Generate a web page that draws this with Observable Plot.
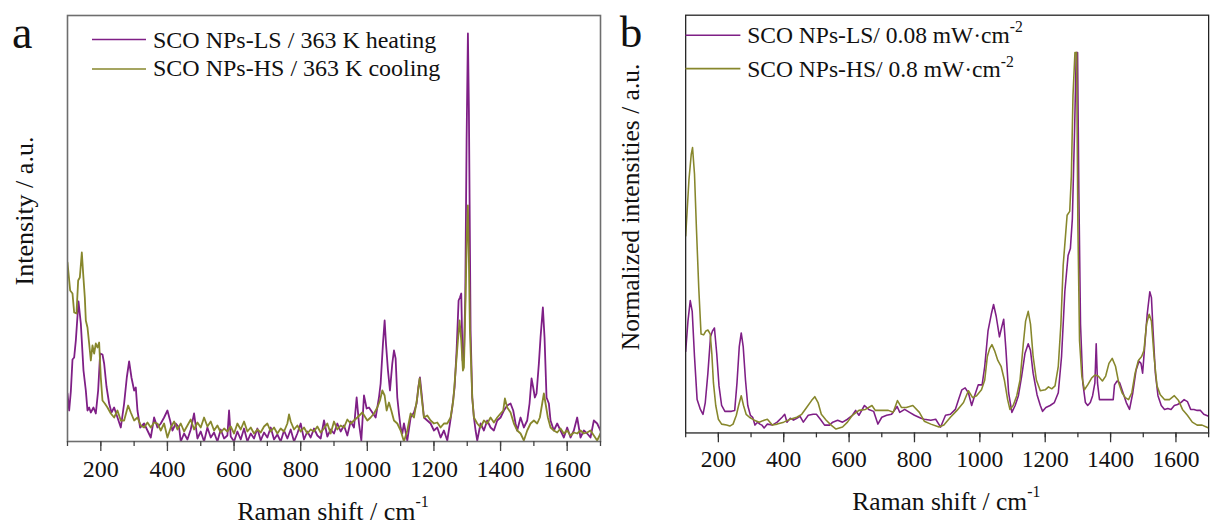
<!DOCTYPE html>
<html><head><meta charset="utf-8">
<script src="https://cdn.jsdelivr.net/npm/d3@7"></script>
<script src="https://cdn.jsdelivr.net/npm/@observablehq/plot@0.6"></script>
<style>
html,body{margin:0;padding:0;background:#fff;overflow:hidden;width:1216px;height:525px;}
#wrap{position:relative;width:1216px;height:525px;overflow:hidden;background:#fff;}
#pa{position:absolute;left:0;top:0;}
#pb{position:absolute;left:608px;top:0;}
svg, svg text{font-family:"Liberation Serif","Times New Roman",serif !important;}
</style></head><body><div id="wrap"><div id="pa"></div><div id="pb"></div></div>
<script>
// Raman shift (cm-1) / intensity (a.u.) pairs
const panelA_LS_heating = [[100,48],[105,31],[110,50],[115,82],[120,84],[125,101],[133,140],[140,118],[148,71],[155,51],[160,31],[165,34],[170,29],[178,34],[185,28],[192,51],[198,88],[205,87],[210,78],[217,55],[225,38],[232,29],[240,34],[250,24],[260,14],[270,38],[278,64],[285,80],[292,64],[300,51],[305,54],[310,31],[318,14],[330,18],[340,11],[350,4],[360,24],[370,14],[380,18],[390,24],[400,31],[408,21],[415,11],[425,18],[435,14],[440,0],[450,8],[460,2],[470,12],[480,28],[490,3],[500,10],[510,0],[520,14],[530,4],[540,9],[550,0],[560,12],[570,3],[580,6],[585,31],[590,5],[600,0],[610,10],[620,2],[630,13],[640,0],[650,8],[660,3],[670,13],[680,1],[690,9],[700,4],[710,14],[720,2],[730,7],[740,0],[750,11],[760,3],[770,12],[780,0],[790,8],[800,18],[810,2],[820,10],[830,4],[840,13],[850,6],[860,3],[870,21],[880,5],[890,12],[900,8],[910,18],[920,10],[930,16],[940,6],[950,20],[960,14],[968,44],[975,18],[982,1],[990,46],[998,33],[1005,34],[1015,29],[1025,24],[1035,44],[1040,58],[1047,98],[1052,121],[1056,98],[1062,71],[1068,51],[1075,78],[1080,91],[1085,83],[1090,44],[1095,28],[1100,14],[1105,8],[1110,18],[1120,1],[1130,24],[1140,29],[1148,38],[1153,54],[1158,64],[1163,48],[1170,24],[1180,21],[1190,18],[1200,11],[1210,14],[1220,4],[1230,11],[1240,1],[1248,18],[1255,34],[1262,54],[1268,91],[1274,141],[1278,144],[1282,148],[1286,81],[1290,84],[1294,144],[1298,300],[1302,408],[1305,330],[1310,111],[1315,44],[1320,24],[1325,11],[1330,1],[1340,18],[1350,11],[1360,21],[1370,14],[1380,11],[1390,21],[1400,24],[1410,31],[1420,36],[1430,38],[1438,31],[1445,18],[1450,11],[1460,24],[1470,14],[1480,21],[1487,38],[1493,63],[1498,54],[1503,44],[1508,48],[1515,78],[1520,104],[1527,134],[1532,104],[1538,44],[1545,38],[1550,21],[1560,11],[1570,18],[1580,11],[1590,4],[1600,14],[1610,4],[1620,11],[1630,24],[1640,4],[1650,11],[1660,8],[1670,4],[1680,21],[1690,18],[1700,11]];

const panelA_HS_cooling = [[100,179],[108,151],[115,148],[120,129],[127,128],[132,161],[137,164],[143,189],[147,168],[152,144],[155,121],[160,114],[165,98],[170,81],[175,96],[180,88],[185,98],[190,94],[195,99],[200,64],[205,41],[212,38],[220,34],[230,28],[240,24],[250,31],[260,21],[270,21],[282,36],[290,29],[300,21],[310,24],[320,16],[330,14],[340,19],[350,14],[360,19],[370,18],[380,11],[390,18],[400,4],[410,14],[420,20],[430,12],[440,18],[450,10],[460,16],[470,22],[480,12],[490,19],[500,14],[510,24],[520,15],[530,20],[540,11],[550,16],[560,9],[570,13],[580,10],[590,15],[600,8],[610,18],[620,12],[630,20],[640,10],[650,14],[660,8],[670,12],[680,9],[690,15],[700,18],[710,10],[720,14],[730,8],[740,13],[750,10],[760,18],[765,27],[770,20],[780,12],[790,16],[800,10],[810,14],[820,8],[830,12],[840,10],[850,15],[860,9],[870,13],[880,18],[890,8],[900,20],[910,12],[920,16],[930,14],[940,22],[950,18],[960,21],[970,24],[985,29],[1000,21],[1010,24],[1020,28],[1030,34],[1038,41],[1045,51],[1052,46],[1058,31],[1065,39],[1072,31],[1080,21],[1090,18],[1100,11],[1110,0],[1120,11],[1130,28],[1140,24],[1150,44],[1157,63],[1163,44],[1170,24],[1180,26],[1190,21],[1200,18],[1210,19],[1220,14],[1230,18],[1240,18],[1250,24],[1258,41],[1265,71],[1272,101],[1277,121],[1282,101],[1287,71],[1290,74],[1295,144],[1299,210],[1302,236],[1305,180],[1308,111],[1315,44],[1320,24],[1330,18],[1340,14],[1350,21],[1360,18],[1370,24],[1380,19],[1390,24],[1400,28],[1408,31],[1413,43],[1420,34],[1430,29],[1440,18],[1450,11],[1460,8],[1470,1],[1480,11],[1490,18],[1500,21],[1510,18],[1518,24],[1525,38],[1530,48],[1535,38],[1542,24],[1550,14],[1560,11],[1570,9],[1580,13],[1590,8],[1600,11],[1610,6],[1620,9],[1630,8],[1640,11],[1650,8],[1660,9],[1670,11],[1680,6],[1690,1],[1700,8]];

const panelB_LS_008 = [[100,83],[107,114],[114,135],[120,124],[127,78],[135,34],[145,24],[153,19],[160,31],[168,61],[176,98],[182,104],[188,107],[195,81],[202,48],[210,28],[220,22],[230,22],[240,22],[250,23],[257,51],[264,88],[270,102],[276,88],[283,54],[290,28],[298,18],[305,16],[312,8],[320,11],[327,9],[333,8],[340,5],[350,9],[365,8],[380,11],[395,16],[403,19],[410,11],[420,15],[430,13],[440,15],[450,17],[460,11],[475,18],[490,19],[500,19],[512,14],[525,8],[540,8],[550,11],[565,13],[580,11],[595,14],[610,18],[620,23],[630,18],[647,28],[660,24],[675,22],[688,9],[700,16],[715,18],[730,19],[747,27],[755,21],[770,24],[785,21],[800,18],[820,15],[830,14],[850,13],[865,14],[880,6],[895,18],[910,19],[925,24],[935,34],[945,44],[955,46],[965,41],[975,28],[985,39],[995,49],[1007,49],[1015,68],[1025,104],[1035,121],[1042,131],[1050,119],[1060,98],[1067,108],[1073,116],[1080,84],[1088,41],[1098,21],[1108,28],[1118,38],[1128,58],[1138,81],[1148,91],[1155,84],[1163,61],[1175,39],[1185,28],[1192,22],[1202,26],[1215,28],[1228,31],[1240,41],[1250,78],[1260,144],[1270,181],[1277,188],[1283,218],[1290,311],[1295,388],[1299,388],[1303,244],[1308,111],[1315,51],[1323,31],[1330,28],[1338,31],[1345,38],[1352,51],[1356,91],[1360,51],[1366,34],[1380,34],[1395,34],[1408,34],[1412,49],[1420,53],[1428,51],[1438,41],[1448,31],[1458,24],[1468,41],[1478,64],[1487,73],[1493,71],[1498,61],[1505,91],[1512,121],[1520,144],[1525,138],[1530,104],[1537,61],[1545,38],[1555,28],[1565,24],[1575,25],[1585,24],[1595,28],[1605,29],[1615,31],[1625,34],[1635,32],[1645,24],[1655,24],[1665,23],[1675,23],[1685,19],[1700,17]];

const panelB_HS_08 = [[100,201],[110,258],[117,284],[121,291],[127,264],[133,208],[140,148],[147,101],[155,100],[162,104],[168,105],[175,101],[180,81],[185,51],[192,28],[200,14],[210,9],[225,8],[235,7],[245,9],[255,18],[262,28],[270,38],[277,28],[285,19],[295,16],[310,13],[325,11],[340,13],[350,14],[365,8],[380,9],[400,11],[420,14],[440,16],[455,19],[470,26],[485,33],[495,37],[505,31],[515,19],[530,13],[545,8],[560,4],[580,6],[595,11],[610,18],[630,23],[650,24],[670,28],[680,23],[700,23],[720,23],[735,21],[748,33],[760,26],[775,26],[795,28],[815,21],[830,12],[850,9],[875,6],[890,8],[910,16],[930,23],[950,31],[965,43],[978,36],[990,38],[1005,44],[1015,54],[1023,78],[1030,86],[1037,90],[1045,84],[1055,74],[1065,68],[1075,54],[1085,34],[1092,24],[1102,28],[1113,38],[1123,54],[1133,91],[1140,114],[1148,124],[1155,111],[1163,78],[1173,54],[1185,43],[1200,44],[1210,47],[1220,45],[1230,48],[1240,68],[1248,111],[1255,171],[1263,205],[1267,222],[1275,226],[1280,262],[1285,344],[1291,388],[1296,388],[1300,211],[1305,94],[1312,58],[1320,44],[1330,49],[1342,56],[1352,59],[1362,58],[1375,53],[1385,58],[1395,71],[1405,76],[1415,68],[1425,51],[1435,41],[1445,36],[1455,34],[1465,41],[1475,61],[1485,74],[1495,78],[1502,84],[1510,111],[1518,121],[1525,114],[1533,78],[1542,48],[1552,39],[1565,34],[1580,34],[1595,38],[1608,33],[1620,24],[1635,18],[1650,11],[1665,8],[1680,8],[1700,5]];

const majorTicks = [200, 400, 600, 800, 1000, 1200, 1400, 1600];
const minorTicks = [100, 300, 500, 700, 900, 1100, 1300, 1500, 1700];
const legendA = ["SCO NPs-LS / 363 K heating", "SCO NPs-HS / 363 K cooling"];
const legendB = ["SCO NPs-LS/ 0.08 mW·cm", "SCO NPs-HS/ 0.8 mW·cm"];
const xTitle = "Raman shift / cm";
const yTitleA = "Intensity / a.u.";
const yTitleB = "Normalized intensities / a.u.";

const PURPLE = "#7f1f86";
const OLIVE = "#87872c";
const SERIF = '"Liberation Serif", "Times New Roman", serif';

function toRows(pairs){ return pairs.map(([x,y]) => ({x, y})); }

function makePanel(o){
  const svg = Plot.plot({
    width: o.width, height: 525,
    marginTop: 15, marginBottom: 84, marginLeft: o.marginLeft, marginRight: o.marginRight,
    style: {fontFamily: SERIF, fontSize: "24px", color: "#111", background: "white", overflow: "visible"},
    x: {domain: [100, 1700]},
    y: {domain: [0, 426], axis: null},
    marks: [
      ...o.series.map(s => Plot.line(toRows(s.data), {x: "x", y: "y", stroke: s.color, strokeWidth: o.lineWidth, clip: true})),
      Plot.frame({stroke: o.frameColor, strokeWidth: o.frameWidth}),
      Plot.axisX({ticks: [...minorTicks, ...majorTicks], tickSize: 5, text: null, label: null, stroke: o.tickColor, strokeWidth: 1.3}),
      Plot.axisX({ticks: majorTicks, tickSize: 10, tickPadding: 8, label: null, stroke: o.tickColor, strokeWidth: 1.3, tickFormat: d => String(d), fontSize: 24, fontFamily: SERIF})
    ]
  });
  const g = d3.select(svg);
  g.selectAll("text").attr("font-family", SERIF);
  // panel label
  g.append("text").attr("x", o.labelX).attr("y", 48).attr("text-anchor", "start").attr("font-size", 46).attr("fill", "#111").text(o.label);
  // y title
  g.append("text").attr("transform", `translate(${o.yTitleX},211) rotate(-90)`).attr("text-anchor", "middle")
    .attr("font-size", 26).attr("fill", "#111").text(o.yTitle);
  // x title with superscript
  const xt = g.append("text").attr("x", o.xTitleX).attr("y", 520).attr("text-anchor", "middle").attr("font-size", 26).attr("fill", "#111");
  xt.append("tspan").text(xTitle);
  xt.append("tspan").attr("font-size", 16).attr("dy", -13).text("-1");
  // legend
  o.legend.forEach((L, i) => {
    g.append("line").attr("x1", o.legX1).attr("x2", o.legX2).attr("y1", o.legLineY[i]).attr("y2", o.legLineY[i])
      .attr("stroke", o.series[i].color).attr("stroke-width", 1.6);
    const t = g.append("text").attr("x", o.legTextX).attr("y", o.legTextY[i]).attr("text-anchor", "start").attr("font-size", 24).attr("fill", "#111");
    t.append("tspan").text(L);
    if (o.legSup) t.append("tspan").attr("font-size", 16).attr("dy", -11).text(o.legSup);
  });
  return svg;
}

document.getElementById("pa").appendChild(makePanel({
  width: 608, marginLeft: 67, marginRight: 8,
  series: [{data: panelA_LS_heating, color: PURPLE}, {data: panelA_HS_cooling, color: OLIVE}],
  lineWidth: 1.8, frameColor: "#6e6e6e", frameWidth: 1.6, tickColor: "#444",
  label: "a", labelX: 12, yTitle: yTitleA, yTitleX: 33, xTitleX: 333,
  legend: legendA, legX1: 92, legX2: 146, legLineY: [39.5, 69], legTextX: 153, legTextY: [47.5, 76], legSup: null
}));

document.getElementById("pb").appendChild(makePanel({
  width: 620, marginLeft: 78.7, marginRight: 8,
  series: [{data: panelB_LS_008, color: PURPLE}, {data: panelB_HS_08, color: OLIVE}],
  lineWidth: 1.6, frameColor: "#222", frameWidth: 1.3, tickColor: "#333",
  label: "b", labelX: 12, yTitle: yTitleB, yTitleX: 32, xTitleX: 345,
  legend: legendB, legX1: 79, legX2: 135, legLineY: [36, 70], legTextX: 142, legTextY: [44, 79], legSup: "-2"
}));
</script></body></html>
